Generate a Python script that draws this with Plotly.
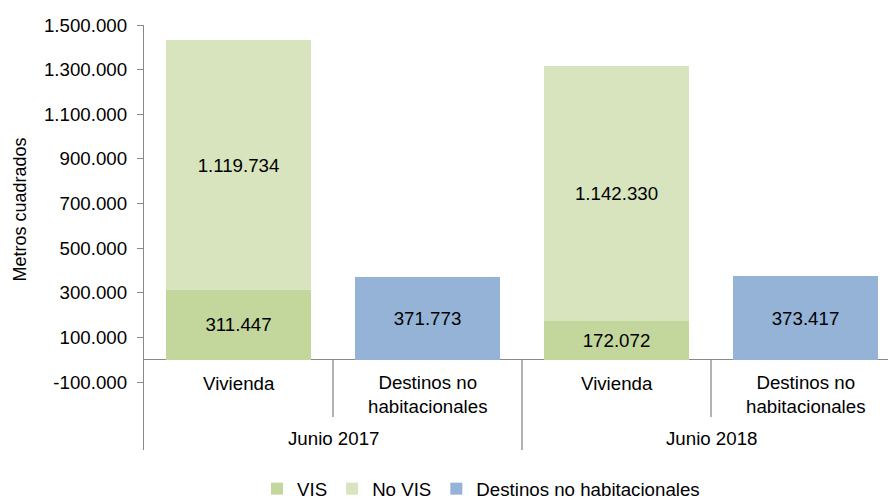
import plotly.graph_objects as go

# ---- data ----
groups = ["Junio 2017", "Junio 2017", "Junio 2018", "Junio 2018"]
categories = ["Vivienda", "Destinos no habitacionales", "Vivienda", "Destinos no habitacionales"]
category_labels = ["Vivienda", "Destinos no<br>habitacionales", "Vivienda", "Destinos no<br>habitacionales"]
group_labels = ["Junio 2017", "Junio 2018"]
vis = [311447, None, 172072, None]
no_vis = [1119734, None, 1142330, None]
destinos = [None, 371773, None, 373417]
y_tickvals = [-100000, 100000, 300000, 500000, 700000, 900000, 1100000, 1300000, 1500000]
y_ticktext = ["-100.000", "100.000", "300.000", "500.000", "700.000", "900.000",
              "1.100.000", "1.300.000", "1.500.000"]

FONT = "Liberation Sans, Arial, sans-serif"
FS = 18.7
GRAY = "#898989"

x = [groups, categories]

fig = go.Figure()
fig.add_trace(go.Bar(name="VIS", x=x, y=vis, marker=dict(color="#c3d69b", line=dict(width=0)),
                     texttemplate="%{y:,.0f}", textposition="inside", insidetextanchor="middle",
                     textfont=dict(size=FS, color="black", family=FONT), hoverinfo="skip"))
fig.add_trace(go.Bar(name="No VIS", x=x, y=no_vis, marker=dict(color="#d7e4bd", line=dict(width=0)),
                     texttemplate="%{y:,.0f}", textposition="inside", insidetextanchor="middle",
                     textfont=dict(size=FS, color="black", family=FONT), hoverinfo="skip"))
fig.add_trace(go.Bar(name="Destinos no habitacionales", x=x, y=destinos,
                     marker=dict(color="#95b3d7", line=dict(width=0)),
                     texttemplate="%{y:,.0f}", textposition="inside", insidetextanchor="middle",
                     textfont=dict(size=FS, color="black", family=FONT), hoverinfo="skip"))

# plot area geometry (pixels)
L, T, B_PX, H_PX = 144, 25, 450, 499
plot_h = B_PX - T
ymin, ymax = -404762, 1500000
zero_frac = (0 - ymin) / (ymax - ymin)

def py(px):
    return (B_PX - px) / plot_h

def px_x(px):
    return (px - L) / (888 - L)

annotations = []
for i, lab in enumerate(category_labels):
    two = "<br>" in lab
    annotations.append(dict(x=i, xref="x", y=py(394 if two else 383), yref="paper",
                            text=lab, showarrow=False, yanchor="middle", xanchor="center",
                            font=dict(size=FS, color="black", family=FONT)))
for j, g in enumerate(group_labels):
    annotations.append(dict(x=2 * j + 0.5, xref="x", y=py(438), yref="paper",
                            text=g, showarrow=False, yanchor="middle", xanchor="center",
                            font=dict(size=FS, color="black", family=FONT)))
annotations.append(dict(x=px_x(19.5), xref="paper", y=py(210), yref="paper",
                        text="Metros cuadrados", textangle=-90, showarrow=False,
                        xanchor="center", yanchor="middle",
                        font=dict(size=18, color="black", family=FONT)))

shapes = []
for xb, bottom in [(0.5, py(417)), (1.5, 0), (2.5, py(417))]:
    shapes.append(dict(type="line", xref="x", yref="paper", x0=xb, x1=xb,
                       y0=zero_frac, y1=bottom, line=dict(color=GRAY, width=1.3)))

fig.update_layout(
    width=888, height=499,
    margin=dict(l=L, r=0, t=T, b=H_PX - B_PX, autoexpand=False),
    paper_bgcolor="white", plot_bgcolor="white",
    barmode="stack", bargap=0.228,
    separators=",.",
    font=dict(family=FONT, size=FS, color="black"),
    showlegend=True,
    legend=dict(orientation="h", x=px_x(481), xanchor="center", y=py(489), yanchor="middle",
                font=dict(size=FS, family=FONT, color="black"), traceorder="normal",
                itemwidth=30, bgcolor="rgba(0,0,0,0)"),
    annotations=annotations, shapes=shapes,
    uniformtext=dict(mode=False),
)
fig.update_xaxes(showticklabels=False, ticks="", showline=False, showgrid=False,
                 zeroline=False, range=[-0.5, (888 - L) / 189 - 0.5], showdividers=False)
fig.update_yaxes(range=[ymin, ymax], tickvals=y_tickvals, ticktext=y_ticktext,
                 showgrid=False, showline=True, linecolor=GRAY, linewidth=1.3,
                 ticks="outside", ticklen=6, tickcolor=GRAY, tickwidth=1.3,
                 ticklabelstandoff=6,
                 zeroline=True, zerolinecolor=GRAY, zerolinewidth=1.3,
                 tickfont=dict(size=FS, family=FONT, color="black"))

fig.write_html("out.html")
